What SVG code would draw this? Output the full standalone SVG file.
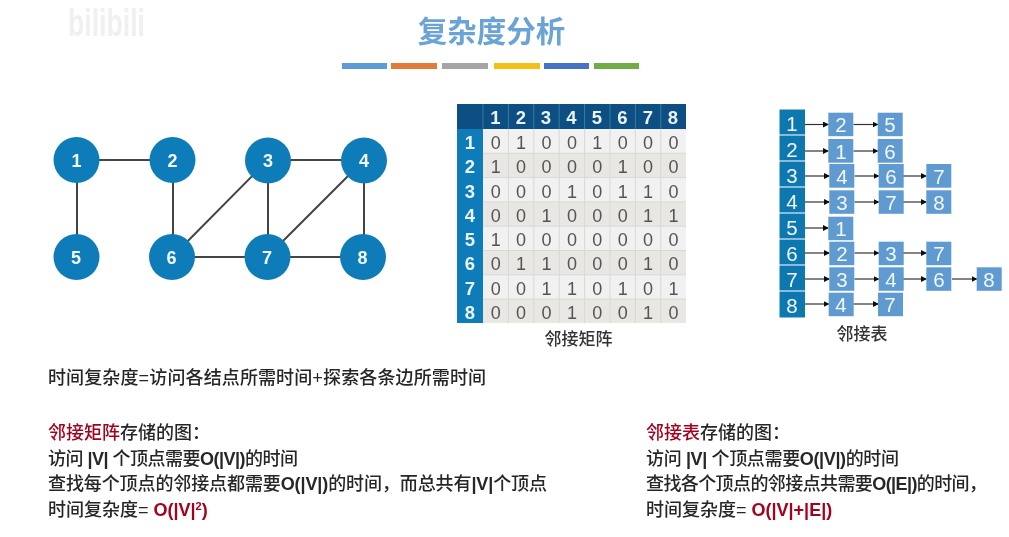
<svg xmlns="http://www.w3.org/2000/svg" width="1009" height="537" viewBox="0 0 1009 537">
<style>
text{font-family:"Liberation Sans","Noto Sans CJK SC",sans-serif}
.t{font-size:18px;font-weight:500;fill:#262626}
.r{fill:#a5001e}
.b{font-weight:bold}
.title{font-size:29.5px;font-weight:bold;fill:#6ba3d6;font-family:"Noto Sans CJK SC",sans-serif}
.e{stroke:#444;stroke-width:2;fill:none}
.c{fill:#0e7cb8}
.cl{font-size:18px;font-weight:bold;fill:#f2f8fb;text-anchor:middle}
.hd{fill:#0b4f83}
.sd{fill:#0e7cb8}
.hl{font-size:18.5px;font-weight:bold;fill:#e9f3f8;text-anchor:middle}
.v{font-size:18px;fill:#555;text-anchor:middle}
.ra{fill:#f1f1f1}
.rb{fill:#e8e7e3}
.gl{stroke:#d8d8d4;stroke-width:1}
.lh{fill:#0e78b0}
.ln{fill:#5f9bd0}
.ll{font-size:20.5px;fill:#f2f7fb;text-anchor:middle}
.a{stroke:#333;stroke-width:1.2;fill:none;marker-end:url(#ah)}
.cap{font-size:17px;font-weight:500;fill:#333;text-anchor:middle}
</style>
<defs>
<marker id="ah" markerWidth="6" markerHeight="6" refX="5" refY="3" orient="auto" markerUnits="userSpaceOnUse"><path d="M0 0L6 3L0 6z" fill="#111"/></marker>
<filter id="soft" x="0" y="0" width="100%" height="100%"><feGaussianBlur stdDeviation="0.45"/></filter>
</defs>
<rect width="1009" height="537" fill="#fff"/>
<g filter="url(#soft)">
<text x="68" y="36" font-size="38" font-weight="bold" fill="#f0f0f0" textLength="77" lengthAdjust="spacingAndGlyphs">bilibili</text>
<text id="title" class="title" x="491.500" y="42" text-anchor="middle">复杂度分析</text>
<g id="title-bars">
<rect x="342" y="63" width="45" height="6" fill="#5b9bd5"/>
<rect x="391" y="63" width="46" height="6" fill="#e07b39"/>
<rect x="442" y="63" width="46" height="6" fill="#a5a5a5"/>
<rect x="494" y="63" width="46" height="6" fill="#f5c018"/>
<rect x="544" y="63" width="45" height="6" fill="#4472c4"/>
<rect x="594" y="63" width="45" height="6" fill="#70ad47"/>
</g>
<g id="connectors">
<path class="e" d="M77 160H173M77 160V257M173 160V257M268 160H364M268 160L172 257M268 160V257M364 160L267 257M364 160V257M172 257H363"/>
</g>
<g id="n1"><circle class="c" cx="76.500" cy="160" r="23"/><text class="cl" x="76.500" y="166.500">1</text></g>
<g id="n2"><circle class="c" cx="172.500" cy="160" r="23"/><text class="cl" x="172.500" y="166.500">2</text></g>
<g id="n3"><circle class="c" cx="268" cy="160.500" r="23"/><text class="cl" x="268" y="167">3</text></g>
<g id="n4"><circle class="c" cx="364" cy="160.500" r="23"/><text class="cl" x="364" y="167">4</text></g>
<g id="n5"><circle class="c" cx="76.500" cy="257" r="23"/><text class="cl" x="76" y="263.500">5</text></g>
<g id="n6"><circle class="c" cx="172" cy="257" r="23"/><text class="cl" x="171.500" y="263.500">6</text></g>
<g id="n7"><circle class="c" cx="267.500" cy="257" r="23"/><text class="cl" x="267" y="263.500">7</text></g>
<g id="n8"><circle class="c" cx="363" cy="257" r="23"/><text class="cl" x="362.500" y="263.500">8</text></g>
<g id="matrix">
<rect class="hd" x="457" y="104" width="229" height="25"/>
<rect class="sd" x="457" y="129" width="26" height="194"/>
<rect class="ra" x="483" y="129" width="203" height="24.300"/>
<rect class="rb" x="483" y="153.300" width="203" height="24.300"/>
<rect class="ra" x="483" y="177.600" width="203" height="24.300"/>
<rect class="rb" x="483" y="201.900" width="203" height="24.300"/>
<rect class="ra" x="483" y="226.200" width="203" height="24.300"/>
<rect class="rb" x="483" y="250.500" width="203" height="24.300"/>
<rect class="ra" x="483" y="274.800" width="203" height="24.300"/>
<rect class="rb" x="483" y="299.100" width="203" height="24"/>
<path class="gl" d="M508.400 129V323M533.800 129V323M559.200 129V323M584.600 129V323M610 129V323M635.400 129V323M660.800 129V323M483 153.300H686M483 177.600H686M483 201.900H686M483 226.200H686M483 250.500H686M483 274.800H686M483 299.100H686"/>
<path d="M483 104V129M508.400 104V129M533.800 104V129M559.200 104V129M584.600 104V129M610 104V129M635.400 104V129M660.800 104V129" stroke="#3c7aa5" stroke-width="1"/>
<text class="hl" x="495.500" y="124">1</text><text class="hl" x="521" y="124">2</text><text class="hl" x="546" y="124">3</text><text class="hl" x="571.500" y="124">4</text><text class="hl" x="597" y="124">5</text><text class="hl" x="622.500" y="124">6</text><text class="hl" x="648" y="124">7</text><text class="hl" x="673" y="124">8</text>
<text class="hl" x="470" y="149">1</text><text class="hl" x="470" y="173">2</text><text class="hl" x="470" y="197.500">3</text><text class="hl" x="470" y="221.500">4</text><text class="hl" x="470" y="246">5</text><text class="hl" x="470" y="270">6</text><text class="hl" x="470" y="294.500">7</text><text class="hl" x="470" y="319">8</text>
<text class="v" y="149"><tspan x="495.700">0</tspan><tspan x="521">1</tspan><tspan x="546.500">0</tspan><tspan x="571.900">0</tspan><tspan x="597.300">1</tspan><tspan x="622.700">0</tspan><tspan x="648.100">0</tspan><tspan x="673.400">0</tspan></text>
<text class="v" y="173"><tspan x="495.700">1</tspan><tspan x="521">0</tspan><tspan x="546.500">0</tspan><tspan x="571.900">0</tspan><tspan x="597.300">0</tspan><tspan x="622.700">1</tspan><tspan x="648.100">0</tspan><tspan x="673.400">0</tspan></text>
<text class="v" y="197.500"><tspan x="495.700">0</tspan><tspan x="521">0</tspan><tspan x="546.500">0</tspan><tspan x="571.900">1</tspan><tspan x="597.300">0</tspan><tspan x="622.700">1</tspan><tspan x="648.100">1</tspan><tspan x="673.400">0</tspan></text>
<text class="v" y="221.500"><tspan x="495.700">0</tspan><tspan x="521">0</tspan><tspan x="546.500">1</tspan><tspan x="571.900">0</tspan><tspan x="597.300">0</tspan><tspan x="622.700">0</tspan><tspan x="648.100">1</tspan><tspan x="673.400">1</tspan></text>
<text class="v" y="246"><tspan x="495.700">1</tspan><tspan x="521">0</tspan><tspan x="546.500">0</tspan><tspan x="571.900">0</tspan><tspan x="597.300">0</tspan><tspan x="622.700">0</tspan><tspan x="648.100">0</tspan><tspan x="673.400">0</tspan></text>
<text class="v" y="270"><tspan x="495.700">0</tspan><tspan x="521">1</tspan><tspan x="546.500">1</tspan><tspan x="571.900">0</tspan><tspan x="597.300">0</tspan><tspan x="622.700">0</tspan><tspan x="648.100">1</tspan><tspan x="673.400">0</tspan></text>
<text class="v" y="294.500"><tspan x="495.700">0</tspan><tspan x="521">0</tspan><tspan x="546.500">1</tspan><tspan x="571.900">1</tspan><tspan x="597.300">0</tspan><tspan x="622.700">1</tspan><tspan x="648.100">0</tspan><tspan x="673.400">1</tspan></text>
<text class="v" y="319"><tspan x="495.700">0</tspan><tspan x="521">0</tspan><tspan x="546.500">0</tspan><tspan x="571.900">1</tspan><tspan x="597.300">0</tspan><tspan x="622.700">0</tspan><tspan x="648.100">1</tspan><tspan x="673.400">0</tspan></text>
<text class="cap" x="578.500" y="345">邻接矩阵</text>
</g>
<g id="list-head">
<rect class="lh" x="779.500" y="109.500" width="25.500" height="25"/><rect class="lh" x="779.500" y="135.500" width="25.500" height="25"/><rect class="lh" x="779.500" y="161.500" width="25.500" height="25"/><rect class="lh" x="779.500" y="187.500" width="25.500" height="25"/><rect class="lh" x="779.500" y="213.500" width="25.500" height="25"/><rect class="lh" x="779.500" y="239.500" width="25.500" height="25"/><rect class="lh" x="779.500" y="265.500" width="25.500" height="25"/><rect class="lh" x="779.500" y="291.500" width="25.500" height="26"/>
<text class="ll" x="792" y="131">1</text><text class="ll" x="792" y="157">2</text><text class="ll" x="792" y="183">3</text><text class="ll" x="792" y="209">4</text><text class="ll" x="792" y="235">5</text><text class="ll" x="792" y="261">6</text><text class="ll" x="792" y="287">7</text><text class="ll" x="792" y="313">8</text>
</g>
<g id="list-arrows">
<path class="a" d="M805 124.500H828"/><path class="a" d="M853.500 124.500H877.500"/>
<path class="a" d="M805 151H828"/><path class="a" d="M853.500 151H877.500"/>
<path class="a" d="M805 176H829"/><path class="a" d="M854.500 176H878.500"/><path class="a" d="M903 176H926"/>
<path class="a" d="M805 202H829"/><path class="a" d="M854.500 202H878.500"/><path class="a" d="M903 202H926"/>
<path class="a" d="M805 228H828"/>
<path class="a" d="M805 253H829"/><path class="a" d="M854.500 253H878.500"/><path class="a" d="M903 253H926"/>
<path class="a" d="M805 279H829"/><path class="a" d="M854.500 279H878.500"/><path class="a" d="M903 279H926"/><path class="a" d="M952 279H976.500"/>
<path class="a" d="M805 304H828.500"/><path class="a" d="M853.500 304H878"/>
</g>
<g id="list-nodes">
<g><rect class="ln" x="828.300" y="112.700" width="25" height="23.500"/><text class="ll" x="841" y="132">2</text><rect class="ln" x="877.700" y="112.700" width="25" height="23.500"/><text class="ll" x="890" y="132">5</text></g>
<g><rect class="ln" x="828.300" y="139" width="25" height="23.700"/><text class="ll" x="841" y="158.500">1</text><rect class="ln" x="877.700" y="139" width="25" height="23.700"/><text class="ll" x="890" y="158.500">6</text></g>
<g><rect class="ln" x="829.300" y="164" width="25" height="23.700"/><text class="ll" x="842" y="183.500">4</text><rect class="ln" x="878.700" y="164" width="25" height="23.700"/><text class="ll" x="891" y="183.500">6</text><rect class="ln" x="926.300" y="164" width="25" height="23.700"/><text class="ll" x="939" y="183.500">7</text></g>
<g><rect class="ln" x="829.300" y="190.300" width="25" height="23.500"/><text class="ll" x="842" y="209.500">3</text><rect class="ln" x="878.700" y="190.300" width="25" height="23.500"/><text class="ll" x="891" y="209.500">7</text><rect class="ln" x="926.300" y="190.300" width="25" height="23.500"/><text class="ll" x="939" y="209.500">8</text></g>
<g><rect class="ln" x="828.300" y="216.700" width="25" height="23.500"/><text class="ll" x="841" y="236">1</text></g>
<g><rect class="ln" x="829.300" y="241.700" width="25" height="23.500"/><text class="ll" x="842" y="261">2</text><rect class="ln" x="878.700" y="241.700" width="25" height="23.500"/><text class="ll" x="891" y="261">3</text><rect class="ln" x="926.300" y="241.700" width="25" height="23.500"/><text class="ll" x="939" y="261">7</text></g>
<g><rect class="ln" x="829.300" y="267.300" width="25" height="23.500"/><text class="ll" x="842" y="286.500">3</text><rect class="ln" x="878.700" y="267.300" width="25" height="23.500"/><text class="ll" x="891" y="286.500">4</text><rect class="ln" x="926.300" y="267.300" width="25" height="23.500"/><text class="ll" x="939" y="286.500">6</text><rect class="ln" x="976.700" y="267.300" width="25" height="23.500"/><text class="ll" x="989" y="286.500">8</text></g>
<g><rect class="ln" x="828.700" y="292.700" width="25" height="23.500"/><text class="ll" x="841" y="311.500">4</text><rect class="ln" x="878" y="292.700" width="25" height="23.500"/><text class="ll" x="890" y="311.500">7</text></g>
</g>
<text class="cap" x="862" y="339.500">邻接表</text>
<g id="notes">
<text class="t" x="48" y="384" textLength="438">时间复杂度=访问各结点所需时间+探索各条边所需时间</text>
<text class="t" x="48" y="439"><tspan class="r">邻接矩阵</tspan>存储的图：</text>
<text class="t" x="48" y="465" textLength="250">访问 <tspan class="b">|V|</tspan> 个顶点需要<tspan class="b">O(|V|)</tspan>的时间</text>
<text class="t" x="48" y="490" textLength="499">查找每个顶点的邻接点都需要<tspan class="b">O(|V|)</tspan>的时间，而总共有<tspan class="b">|V|</tspan>个顶点</text>
<text class="t" x="48" y="516">时间复杂度= <tspan class="r b">O(|V|</tspan><tspan class="r b" font-size="11" dy="-6">2</tspan><tspan class="r b" dy="6">)</tspan></text>
<text class="t" x="646" y="439"><tspan class="r">邻接表</tspan>存储的图：</text>
<text class="t" x="646" y="465" textLength="253">访问 <tspan class="b">|V|</tspan> 个顶点需要<tspan class="b">O(|V|)</tspan>的时间</text>
<text class="t" x="646" y="490" textLength="341">查找各个顶点的邻接点共需要<tspan class="b">O(|E|)</tspan>的时间，</text>
<text class="t" x="646" y="516">时间复杂度= <tspan class="r b">O(|V|+|E|)</tspan></text>
</g>
</g>
</svg>
